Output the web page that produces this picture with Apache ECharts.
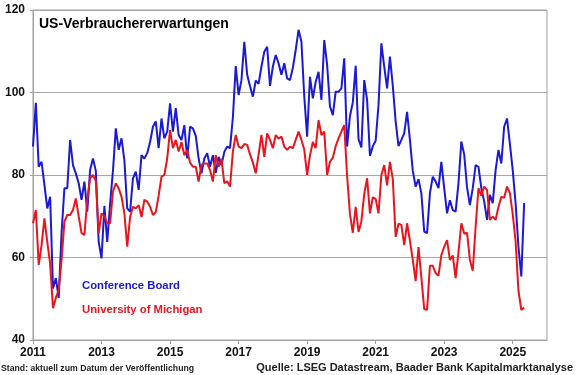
<!DOCTYPE html>
<html>
<head>
<meta charset="utf-8">
<script src="https://cdn.jsdelivr.net/npm/echarts@6/dist/echarts.min.js"></script>
<style>
	html, body { margin: 0; padding: 0; background: #fff; }
	#chart { width: 580px; height: 375px; }
</style>
</head>
<body>
<div id="chart"></div>
<script>
// Monatswerte ab Jan 2011 bis Mai 2025
var firstYear = 2011;
var lastYear = 2026;
var seriesNames = [ 'Conference Board', 'University of Michigan' ];
var yTicks = [ 40, 60, 80, 100, 120 ];

var cbData = [
	86.9, 97.5, 82, 83.2, 77.6, 71.9, 74.7, 52.5, 55, 50.2, 66, 76.8,       // 2011
	76.8, 88.5, 82.4, 80.4, 78, 74, 78.4, 71.1, 81.2, 84, 81, 63.8,         // 2012
	59.8, 72.5, 63.8, 73, 81, 91.3, 86.1, 88.9, 83.6, 71.9, 71.1, 79.2,     // 2013
	80.8, 76.4, 84.8, 84, 85.3, 88, 91.7, 93, 86.5, 93.7, 88.9, 90.5,       // 2014
	97.4, 90.5, 96.2, 89.7, 88.5, 92.1, 84, 91.7, 91.3, 89.5, 84, 80.4,     // 2015
	84, 85.3, 82, 84.8, 80.5, 84.4, 82.4, 85.6, 86.9, 86.5, 94, 106.4,      // 2016
	99.4, 103, 112.3, 104.3, 101.5, 99, 102.9, 102.1, 106.3, 109.9, 111.1, 101.6, // 2017
	106.3, 109.1, 107.1, 104.3, 107.1, 103.4, 103, 106, 110.3, 115.2, 112.3, 99,  // 2018
	89.3, 103.8, 98.6, 102.6, 105, 98.2, 112.7, 106.7, 96.6, 94.5, 100.2, 100.2,  // 2019
	101, 108.3, 86.9, 94.3, 97.6, 106.5, 88.7, 86.7, 103, 98.2, 84.6, 87,   // 2020
	88.3, 97, 111.9, 106.3, 101, 108.7, 101.6, 93, 87, 88.5, 90.1, 95.3,    // 2021
	88.5, 81, 77.2, 79, 75.6, 66.3, 65.9, 75.6, 79.6, 78.4, 76.8, 83.2,     // 2022
	76.8, 70.7, 73.9, 71.5, 71.1, 78, 88.1, 85, 77, 72.7, 76.8, 82.4,       // 2023
	82, 76.8, 73.6, 69.1, 75.2, 73.2, 81.2, 86.1, 82.8, 91.7, 93.7, 87.6,   // 2024
	81.2, 73.2, 62.6, 55.4, 73.2                                            // 2025
];

var umData = [
	68.3, 71.5, 58.2, 63, 69.5, 63.8, 58.5, 47.7, 50.2, 52.1, 59.4, 68.7,   // 2011
	70.3, 70.3, 71.5, 74.3, 70, 65.9, 65.5, 74, 79.2, 80, 78.5, 65.9,       // 2012
	70.7, 70, 68.3, 68.3, 76, 78, 76.8, 74.7, 70.7, 62.6, 69.8, 72.3,       // 2013
	71.9, 72.7, 69.8, 74, 73.5, 72.3, 70.3, 71, 75, 79.6, 80, 84,           // 2014
	90.9, 86.5, 88.5, 85.7, 88, 84.8, 86, 83, 82, 82, 78.4, 82.5,           // 2015
	82.8, 82.8, 81.2, 78.4, 84.8, 82, 83.9, 78, 78.5, 77.2, 85.7, 89.7,     // 2016
	86.9, 86.5, 87.5, 87.3, 85, 83, 80.4, 85, 89.7, 84.4, 90.1, 88.5,       // 2017
	86.5, 89.7, 88.8, 89.3, 86.9, 86.1, 86.9, 86.5, 88.5, 90.5, 88.5, 86.1, // 2018
	80, 84.8, 88, 86.5, 93.3, 89.7, 90.5, 80, 83.2, 84.2, 87, 88.9,         // 2019
	90.5, 92.1, 79.7, 70.5, 66, 72.3, 66.2, 68.8, 75.4, 79.2, 70.7, 74.6,   // 2020
	74.2, 70.7, 80, 82.4, 77.5, 83.2, 79, 65, 68.2, 67.9, 63, 68.3,         // 2021
	64.1, 59.4, 54.3, 62.5, 55.2, 47.5, 47.3, 58, 58, 56.2, 55.6, 60.6,     // 2022
	62.6, 64.2, 59.4, 60.5, 55, 61.3, 68.3, 65.8, 66, 59.4, 56.8, 67.4,     // 2023
	76.8, 75, 77.2, 76.4, 69.1, 69.9, 69.1, 72.3, 74.7, 74.5, 77.2, 75.6,   // 2024
	70.5, 64, 52, 47.3, 47.9                                                // 2025
];

function buildMonths() {
	var months = [];
	for (var y = firstYear; y < lastYear; y++) {
		for (var m = 1; m <= 12; m++) {
			months.push(y + '-' + (m < 10 ? '0' + m : m));
		}
	}
	months.push(lastYear + '-01');
	return months;
}

function showChart() {
	var myChart = echarts.init(document.getElementById('chart'));
	var months = buildMonths();
	// alle zwei Jahre eine Beschriftung
	var everyTwoYears = function(index) {
		return index % 24 === 0 && index < months.length - 1;
	};
	var font = '"Liberation Sans", Arial, sans-serif';
	myChart.setOption({
		animation : false,
		textStyle : {
			fontFamily : font
		},
		title : {
			text : 'US-Verbrauchererwartungen',
			left : 39,
			top : 17,
			padding : 0,
			textStyle : {
				fontSize : 14,
				fontWeight : 'bold',
				color : '#000'
			}
		},
		legend : {
			orient : 'vertical',
			left : 77,
			top : 279,
			padding : 0,
			icon : 'none',
			itemWidth : 0,
			itemGap : 11,
			selectedMode : false,
			data : [ {
				name : seriesNames[0],
				textStyle : { color : '#1a1ad2' }
			}, {
				name : seriesNames[1],
				textStyle : { color : '#e8161c' }
			} ],
			textStyle : {
				fontSize : 11.3,
				fontWeight : 'bold',
				fontFamily : font
			}
		},
		grid : {
			left : 33,
			right : 33,
			top : 10,
			bottom : 35,
			show : true,
			borderColor : '#a0a0a0',
			borderWidth : 1
		},
		xAxis : {
			type : 'category',
			data : months,
			boundaryGap : false,
			axisLine : {
				lineStyle : { color : '#a0a0a0', width : 1 }
			},
			axisTick : {
				interval : everyTwoYears,
				length : 4,
				lineStyle : { color : '#a0a0a0' }
			},
			axisLabel : {
				interval : everyTwoYears,
				formatter : function(value) {
					return value.substring(0, 4);
				},
				margin : 7,
				fontSize : 12,
				fontWeight : 'bold',
				color : '#111'
			},
			splitLine : { show : false }
		},
		yAxis : {
			type : 'value',
			min : yTicks[0],
			max : yTicks[yTicks.length - 1],
			interval : 20,
			axisLine : {
				show : true,
				lineStyle : { color : '#a0a0a0', width : 1 }
			},
			axisTick : {
				show : true,
				length : 3,
				lineStyle : { color : '#a0a0a0' }
			},
			axisLabel : {
				margin : 8,
				fontSize : 12,
				fontWeight : 'bold',
				color : '#111'
			},
			splitLine : {
				lineStyle : { color : '#a8a8a8', width : 1 }
			}
		},
		graphic : [ {
			type : 'text',
			left : 1,
			top : 364,
			style : {
				text : 'Stand: aktuell zum Datum der Veröffentlichung',
				font : 'bold 8.7px ' + font,
				fill : '#222'
			}
		}, {
			type : 'text',
			right : 7,
			top : 362,
			style : {
				text : 'Quelle: LSEG Datastream, Baader Bank Kapitalmarktanalyse',
				font : 'bold 11px ' + font,
				fill : '#222'
			}
		} ],
		series : [ {
			name : seriesNames[0],
			type : 'line',
			data : cbData,
			showSymbol : false,
			color : '#1a1ad2',
			lineStyle : { width : 2, color : '#1a1ad2' }
		}, {
			name : seriesNames[1],
			type : 'line',
			data : umData,
			showSymbol : false,
			color : '#e8161c',
			lineStyle : { width : 2, color : '#e8161c' }
		} ]
	});
}
showChart();
</script>
</body>
</html>
